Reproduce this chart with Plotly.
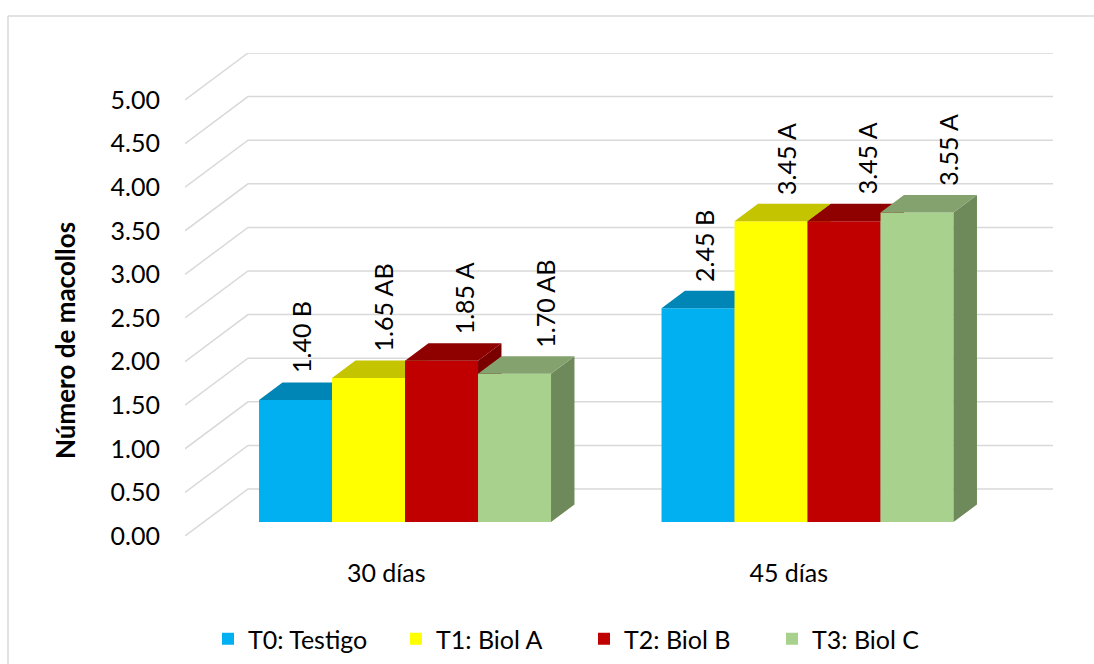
import plotly.graph_objects as go

# ---------------- data ----------------
categories = ["30 días", "45 días"]
series_names = ["T0: Testigo", "T1: Biol A", "T2: Biol B", "T3: Biol C"]
t0_values = [1.40, 2.45]
t1_values = [1.65, 3.45]
t2_values = [1.85, 3.45]
t3_values = [1.70, 3.55]
t0_letters = ["B", "B"]
t1_letters = ["AB", "A"]
t2_letters = ["A", "A"]
t3_letters = ["AB", "A"]
y_ticks = [0.0, 0.5, 1.0, 1.5, 2.0, 2.5, 3.0, 3.5, 4.0, 4.5, 5.0]
y_title = "Número de macollos"

series_values = [t0_values, t1_values, t2_values, t3_values]
series_letters = [t0_letters, t1_letters, t2_letters, t3_letters]

# ---------------- style ----------------
front_colors = ["#00B0F0", "#FFFF00", "#C00000", "#A9D18E"]
top_colors = ["#0086B6", "#C4C400", "#8F0000", "#84A26E"]
side_colors = ["#00769F", "#A8A800", "#7A0000", "#6E8A5A"]
grid_color = "#D9D9D9"
FONT = "Lato"

W, H = 1094, 664
ML, MR, MT, MB = 185, 41, 53, 128
PX_CAT = 402.5          # px per category band
PX_UNIT = 87.2          # px per value unit
DX = 63 / PX_CAT        # full floor depth (x, category units)
DY = 47 / PX_UNIT       # full floor depth (y, value units)
FRONT = 14 / 47         # bar front plane position within depth
DEPTH = 17.5 / 47       # bar depth fraction
BAR_W = 73 / PX_CAT
n_ser = len(series_names)
n_cat = len(categories)

b0 = FRONT * DY
bdx = DEPTH * DX
bdy = DEPTH * DY
x_max = n_cat + DX
y_max = y_ticks[-1] + DY

fig = go.Figure()

# back-wall + side-wall gridlines (main axes)
gx, gy = [], []
for t in y_ticks:
    gx += [0, DX, x_max, None]
    gy += [t, t + DY, t + DY, None]
fig.add_trace(go.Scatter(x=gx, y=gy, mode="lines", line=dict(color=grid_color, width=1.5),
                         hoverinfo="skip", showlegend=False))

centers = [i + 0.5 + FRONT * DX for i in range(n_cat)]

annotations = []
for j in range(n_ser):
    xa, ya = f"x{j + 2}", f"y{j + 2}"
    vals = series_values[j]
    offset = -n_ser / 2 * BAR_W + j * BAR_W
    fig.add_trace(go.Bar(x=centers, y=vals, base=[b0] * n_cat, width=BAR_W, offset=offset,
                         marker=dict(color=front_colors[j], line=dict(width=0)),
                         name=series_names[j], xaxis=xa, yaxis=ya, hoverinfo="skip"))
    tx, ty, sx, sy = [], [], [], []
    for i, v in enumerate(vals):
        Lx = centers[i] + offset
        Rx = Lx + BAR_W
        top = b0 + v
        tx += [Lx, Rx, Rx + bdx, Lx + bdx, Lx, None]
        ty += [top, top, top + bdy, top + bdy, top, None]
        sx += [Rx, Rx + bdx, Rx + bdx, Rx, Rx, None]
        sy += [b0, b0 + bdy, top + bdy, top, b0, None]
        annotations.append(dict(x=Lx + BAR_W / 2, y=top + bdy, xref=xa, yref=ya,
                                text=f"{v:.2f} {series_letters[j][i]}", showarrow=False,
                                textangle=-90, xanchor="center", yanchor="bottom",
                                xshift=6 + 8.3 * j, yshift=7,
                                font=dict(family=FONT, size=25, color="#000000")))
    fig.add_trace(go.Scatter(x=sx, y=sy, fill="toself", fillcolor=side_colors[j], mode="lines",
                             line=dict(width=0, color=side_colors[j]), xaxis=xa, yaxis=ya,
                             hoverinfo="skip", showlegend=False))
    fig.add_trace(go.Scatter(x=tx, y=ty, fill="toself", fillcolor=top_colors[j], mode="lines",
                             line=dict(width=0, color=top_colors[j]), xaxis=xa, yaxis=ya,
                             hoverinfo="skip", showlegend=False))

def px2paper_x(px):
    return (px - ML) / (W - ML - MR)

def px2paper_y(py):
    return (H - MB - py) / (H - MB - MT)

# y-axis title placed as rotated text
annotations.append(dict(x=px2paper_x(65), y=px2paper_y(340), xref="paper", yref="paper",
                        text=f"<b>{y_title}</b>", showarrow=False, textangle=-90,
                        xanchor="center", yanchor="middle",
                        font=dict(family=FONT, size=26, color="#000000")))

shapes = [
    dict(type="line", xref="paper", yref="paper", x0=px2paper_x(8), x1=px2paper_x(8),
         y0=px2paper_y(16), y1=px2paper_y(H + 5), line=dict(color=grid_color, width=1.5)),
    dict(type="line", xref="paper", yref="paper", x0=px2paper_x(8), x1=px2paper_x(W + 5),
         y0=px2paper_y(16), y1=px2paper_y(16), line=dict(color=grid_color, width=1.5)),
]

layout = dict(
    width=W, height=H, margin=dict(l=ML, r=MR, t=MT, b=MB, autoexpand=False),
    paper_bgcolor="white", plot_bgcolor="white",
    font=dict(family=FONT, color="#000000"),
    showlegend=True,
    legend=dict(orientation="h", x=px2paper_x(584), xanchor="center", y=px2paper_y(639),
                yanchor="middle", font=dict(family=FONT, size=25, color="#000000"),
                entrywidth=143, traceorder="normal"),
    xaxis=dict(range=[0, x_max], tickvals=[i + 0.5 for i in range(n_cat)], ticktext=categories,
               showgrid=False, zeroline=False, showline=False, ticks="", ticklabelstandoff=20,
               tickfont=dict(family=FONT, size=25, color="#000000"), fixedrange=True),
    yaxis=dict(range=[0, y_max], tickvals=y_ticks, ticktext=[f"{t:.2f}" for t in y_ticks],
               showgrid=False, zeroline=False, showline=False, ticks="", ticklabelstandoff=24,
               tickfont=dict(family=FONT, size=25, color="#000000"), fixedrange=True),
    annotations=annotations, shapes=shapes,
)
for j in range(n_ser):
    layout[f"xaxis{j + 2}"] = dict(range=[0, x_max], overlaying="x", visible=False, fixedrange=True)
    layout[f"yaxis{j + 2}"] = dict(range=[0, y_max], overlaying="y", visible=False, fixedrange=True)
fig.update_layout(**layout)

fig.write_html("out.html")
